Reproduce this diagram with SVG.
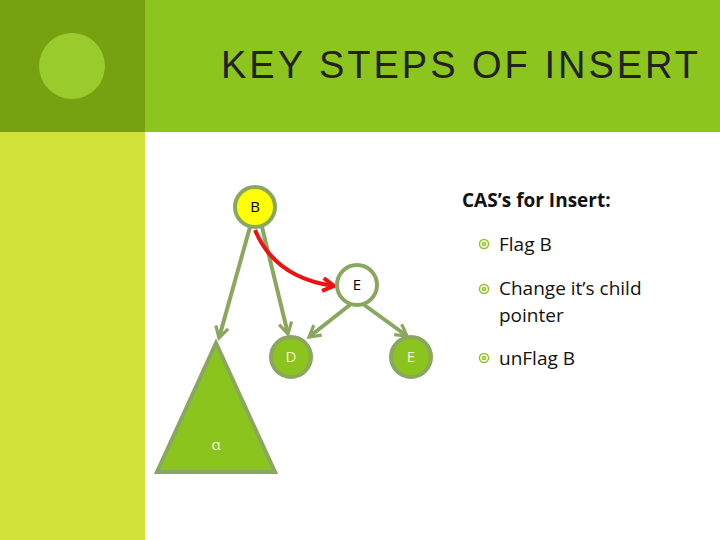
<svg xmlns="http://www.w3.org/2000/svg" width="720" height="540" viewBox="0 0 720 540">
<defs>
<style>
.n{stroke:#8aa760;stroke-width:4}
.e{stroke:#8aa760;stroke-width:4;fill:none;marker-end:url(#ga)}
.t{font-family:"Open Sans","Liberation Sans",sans-serif;font-size:15px;text-anchor:middle}
.b{font-family:"Open Sans","Liberation Sans",sans-serif;font-size:19px;fill:#111}
</style>
<marker id="ga" viewBox="0 0 10 10" refX="8" refY="5" markerWidth="4" markerHeight="4" orient="auto" markerUnits="strokeWidth"><path d="M1,1 L8,5 L1,9" fill="none" stroke="#8aa760" stroke-width="2"/></marker>
<marker id="ra" viewBox="0 0 10 10" refX="8" refY="5" markerWidth="4" markerHeight="4" orient="auto" markerUnits="strokeWidth"><path d="M1,1 L8,5 L1,9" fill="none" stroke="#ee1111" stroke-width="2.5"/></marker>
</defs>
<rect x="0" y="0" width="720" height="540" fill="#fff"/>
<rect x="145" y="0" width="575" height="132" fill="#8dc51f"/>
<rect x="0" y="0" width="145" height="132" fill="#78a112"/>
<rect x="0" y="132" width="145" height="408" fill="#d3e23a"/>
<circle cx="72" cy="66" r="33" fill="#9acb2c"/>
<text x="221" y="78" font-family="Liberation Sans,sans-serif" font-size="38" letter-spacing="3" fill="#222">KEY STEPS OF INSERT</text>
<g id="connectors">
<path class="e" d="M250,227 L219,338"/>
<path class="e" d="M262,227 L288,334"/>
<path class="e" d="M351,304 L309,337"/>
<path class="e" d="M363,304 L407,336"/>
<path d="M255,230 Q275,278 334,286" fill="none" stroke="#ee1111" stroke-width="4" marker-end="url(#ra)"/>
</g>
<g id="alpha"><path class="n" d="M216,343 L157,472 L275,472 Z" fill="#8cc41e"/><text class="t" x="216" y="450" fill="#eef5d0" font-size="17">α</text></g>
<g id="B"><circle class="n" cx="255" cy="207" r="20" fill="#ffff00"/><text class="t" x="255" y="212" fill="#000">B</text></g>
<g id="E"><circle class="n" cx="357" cy="285" r="20" fill="#fff"/><text class="t" x="357" y="290" fill="#000">E</text></g>
<g id="D"><circle class="n" cx="291" cy="357" r="20" fill="#8cc41e"/><text class="t" x="291" y="362" fill="#eef5d0">D</text></g>
<g id="E2"><circle class="n" cx="411" cy="357" r="20" fill="#8cc41e"/><text class="t" x="411" y="362" fill="#eef5d0">E</text></g>
<g id="list">
<text x="462" y="207" font-family="Open Sans,Liberation Sans,sans-serif" font-size="19" font-weight="bold" fill="#111">CAS’s for Insert:</text>
<g fill="none" stroke="#8dc51f" stroke-width="1.5">
<circle cx="484" cy="244" r="4.5"/><circle cx="484" cy="244" r="1.5"/>
<circle cx="484" cy="289" r="4.5"/><circle cx="484" cy="289" r="1.5"/>
<circle cx="484" cy="358" r="4.5"/><circle cx="484" cy="358" r="1.5"/>
</g>
<text class="b" x="499" y="251">Flag B</text>
<text class="b" x="499" y="295">Change it’s child</text>
<text class="b" x="499" y="322">pointer</text>
<text class="b" x="499" y="365">unFlag B</text>
</g>
</svg>
